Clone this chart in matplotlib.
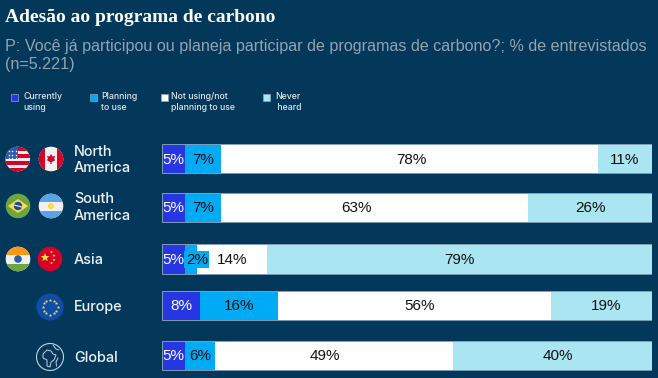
import numpy as np
import matplotlib
matplotlib.use('Agg')
import matplotlib.pyplot as plt
import matplotlib.patheffects as pe
from matplotlib.patches import Circle, Rectangle, Polygon, PathPatch
from matplotlib.path import Path

# Values (% of respondents, bar widths)
regions = ['North\nAmerica', 'South\nAmerica', 'Asia', 'Europe', 'Global']
currently = [4.7, 4.7, 4.7, 7.8, 4.7]
planning = [7.3, 7.3, 2.4, 15.9, 6.1]
not_using = [77.0, 62.7, 14.3, 55.7, 48.6]
never = [11.0, 25.3, 78.6, 20.6, 40.6]

# Printed labels do not always match widths
labels_currently = ['5%', '5%', '5%', '8%', '5%']
labels_planning = ['7%', '7%', '2%', '16%', '6%']
labels_not_using = ['78%', '63%', '14%', '56%', '49%']
labels_never = ['11%', '26%', '79%', '19%', '40%']

legend_labels = ['Currently\nusing', 'Planning\nto use', 'Not using/not\nplanning to use', 'Never\n heard']

# Layout in reference pixels
bar_y = [158.5, 207.5, 258.8, 305, 355]
bar_h = [29, 29, 29.5, 29, 29]
legend_x = [10, 89, 160, 262]
legend_text_x = [23, 101, 171, 275]

BG = '#03385a'
BLUE = '#2536e2'
CYAN = '#00abf6'
WHITE = '#ffffff'
PALE = '#aae6f1'
colors = [BLUE, CYAN, WHITE, PALE]

plt.rcParams['font.family'] = ['Inter', 'DejaVu Sans']

fig = plt.figure(figsize=(6.58, 3.78), dpi=100, facecolor=BG)

# page axes, one unit = one pixel
page = fig.add_axes([0, 0, 1, 1], facecolor=BG)
page.set_xlim(0, 658)
page.set_ylim(378, 0)
page.axis('off')

page.text(5, 17, 'Adesão ao programa de carbono', color='white', fontsize=14,
          family='Liberation Serif', weight='bold', va='center', ha='left')
page.text(5, 47, 'P: Você já participou ou planeja participar de programas de carbono?; % de entrevistados',
          color='#93a4af', fontsize=11.58, va='center', family='Liberation Sans')
page.text(5, 64.5, '(n=5.221)', color='#93a4af', fontsize=11.58, va='center', family='Liberation Sans')

# legend
for x, tx, lab, c in zip(legend_x, legend_text_x, legend_labels, colors):
    page.add_patch(Rectangle((x + 0.5, 93.5), 7, 7, facecolor=c, edgecolor='#8fa6c0', lw=0.5))
    page.text(tx, 102, lab, color='#dfe6ea', fontsize=6.3, va='center', ha='left',
              linespacing=1.25, fontweight='medium')


def flag_disc(cx, cy, r=12.3):
    disc = Circle((cx, cy), r, transform=page.transData, facecolor='none', edgecolor='none')
    page.add_patch(disc)
    return disc


def clipped(patch, disc):
    page.add_patch(patch)
    patch.set_clip_path(disc)


def us_flag(cx, cy):
    d = flag_disc(cx, cy)
    clipped(Rectangle((cx - 13, cy - 13), 26, 26, fc='#f0f0f0'), d)
    for i in range(0, 7, 2):
        clipped(Rectangle((cx - 13, cy - 12 + i * 3.5), 26, 3.5, fc='#d80027'), d)
    clipped(Rectangle((cx - 13, cy - 13), 13, 13, fc='#2a5bb0'), d)
    for sx in [-9, -5.5, -2]:
        for sy in [-8, -4.5, -1.5]:
            page.plot(cx + sx, cy + sy, 's', ms=1, color='white', mew=0)


def canada_flag(cx, cy):
    d = flag_disc(cx, cy)
    clipped(Rectangle((cx - 13, cy - 13), 26, 26, fc='#f0f0f0'), d)
    clipped(Rectangle((cx - 13, cy - 13), 7, 26, fc='#d80027'), d)
    clipped(Rectangle((cx + 6, cy - 13), 7, 26, fc='#d80027'), d)
    leaf = [(0, -5), (1.5, -2.5), (4, -3), (3, 0), (4.5, 1), (0.6, 3.2), (0.6, 5), (-0.6, 5), (-0.6, 3.2),
            (-4.5, 1), (-3, 0), (-4, -3), (-1.5, -2.5)]
    page.add_patch(Polygon([(cx + a, cy + b) for a, b in leaf], fc='#d80027', ec='none'))


def brazil_flag(cx, cy):
    d = flag_disc(cx, cy)
    clipped(Rectangle((cx - 13, cy - 13), 26, 26, fc='#6da544'), d)
    page.add_patch(Polygon([(cx - 10, cy), (cx, cy - 7), (cx + 10, cy), (cx, cy + 7)], fc='#ffda44', ec='none'))
    page.add_patch(Circle((cx, cy), 4.2, fc='#1a4a9e', ec='none'))
    page.plot([cx - 4, cx + 4], [cy - 1, cy + 1], color='#f0f0f0', lw=0.8)


def argentina_flag(cx, cy):
    d = flag_disc(cx, cy)
    clipped(Rectangle((cx - 13, cy - 13), 26, 26, fc='#f0f0f0'), d)
    clipped(Rectangle((cx - 13, cy - 13), 26, 8.5, fc='#5ba3e6'), d)
    clipped(Rectangle((cx - 13, cy + 4.5), 26, 8.5, fc='#5ba3e6'), d)
    page.add_patch(Circle((cx, cy), 3, fc='#ffda44', ec='none'))


def india_flag(cx, cy):
    d = flag_disc(cx, cy)
    clipped(Rectangle((cx - 13, cy - 13), 26, 26, fc='#f0f0f0'), d)
    clipped(Rectangle((cx - 13, cy - 13), 26, 8.5, fc='#ff9811'), d)
    clipped(Rectangle((cx - 13, cy + 4.5), 26, 8.5, fc='#6da544'), d)
    page.add_patch(Circle((cx, cy), 3.8, fc='#2a5bb0', ec='none'))


def star_pts(cx, cy, r):
    ang = np.deg2rad(np.arange(0, 360, 36) - 90)
    rad = np.where(np.arange(10) % 2 == 0, r, r * 0.42)
    return np.c_[cx + rad * np.cos(ang), cy + rad * np.sin(ang)]


def china_flag(cx, cy):
    page.add_patch(Circle((cx, cy), 12.3, fc='#d80027', ec='none'))
    page.add_patch(Polygon(star_pts(cx - 5, cy - 1.5, 4.6), fc='#ffda44', ec='none'))
    for a, b in [(1.5, -7), (4, -3.5), (4, 1), (1.5, 4)]:
        page.add_patch(Polygon(star_pts(cx + a, cy + b, 1.6), fc='#ffda44', ec='none'))


def eu_flag(cx, cy):
    page.add_patch(Circle((cx, cy), 13.5, fc='#0e4ea8', ec='none'))
    for a in np.deg2rad(np.arange(0, 360, 30)):
        page.plot(cx + 7.5 * np.cos(a), cy + 7.5 * np.sin(a), '*', ms=2.6, color='#ffda44', mew=0)


def globe(cx, cy):
    page.add_patch(Circle((cx, cy), 13.5, fc='none', ec='#c6d2d9', lw=0.8))
    africa = [(-7, -3), (-3, -7), (1, -6), (3, -3), (6, -2), (4, 3), (1, 5), (0, 10), (-3, 9), (-3, 3), (-7, 1)]
    page.add_patch(Polygon([(cx + a, cy + b) for a, b in africa], fc='none', ec='#c6d2d9', lw=0.7))
    verts = [(cx + 3, cy - 12), (cx + 6, cy - 8), (cx + 9, cy - 7)]
    page.add_patch(PathPatch(Path(verts), fc='none', ec='#c6d2d9', lw=0.7))
    page.plot([cx + 8, cx + 6, cx + 6.5], [cy + 1, cy + 5, cy + 9], color='#c6d2d9', lw=0.7)


us_flag(17.7, 159)
canada_flag(51, 159)
brazil_flag(18, 206)
argentina_flag(51, 206)
india_flag(18, 259)
china_flag(50, 259)
eu_flag(50, 307)
globe(50, 357)

for lab, y in zip(regions, [160, 207.5, 260, 307, 357.5]):
    page.text(74, y, lab, color='#eef2f4', fontsize=10.4, va='center', ha='left',
              linespacing=1.25, fontweight='medium')

# bars axes, x in percent, y in page pixels
ax = fig.add_axes([162 / 658, 0, 490 / 658, 1], facecolor='none')
ax.set_xlim(0, 100)
ax.set_ylim(378, 0)
ax.axis('off')

left = np.zeros(5)
series = [currently, planning, not_using, never]
all_labels = [labels_currently, labels_planning, labels_not_using, labels_never]
# pixel nudges where the printed label is not centred on its segment
nudge = {(2, 1): -18, (2, 3): 5, (3, 3): 5, (2, 4): -9, (3, 4): 5, (2, 0): 2}

for s, (vals, labs, c) in enumerate(zip(series, all_labels, colors)):
    ax.barh(bar_y, vals, left=left, height=bar_h, color=c, edgecolor='none')
    for i, (v, l) in enumerate(zip(vals, labs)):
        cx = left[i] + v / 2
        bbox = None
        dx = nudge.get((s, i), 0)
        if s == 1 and i == 2:
            dx = 6
            bbox = dict(boxstyle='square,pad=0.1', fc=CYAN, ec='none')
        col = 'white' if s == 0 else '#111111'
        ax.annotate(l, (cx, bar_y[i]), xytext=(dx, -1), textcoords='offset pixels',
                    color=col, fontsize=11, ha='center', va='center', family='Liberation Sans',
                    bbox=bbox, zorder=5)
    left += np.array(vals)

for y, h in zip(bar_y, bar_h):
    ax.add_patch(Rectangle((0, y - h / 2), 100, h, fc='none', ec='#7f9db5', lw=0.7, zorder=4))

fig.savefig('out.png', dpi=100, facecolor=BG)
